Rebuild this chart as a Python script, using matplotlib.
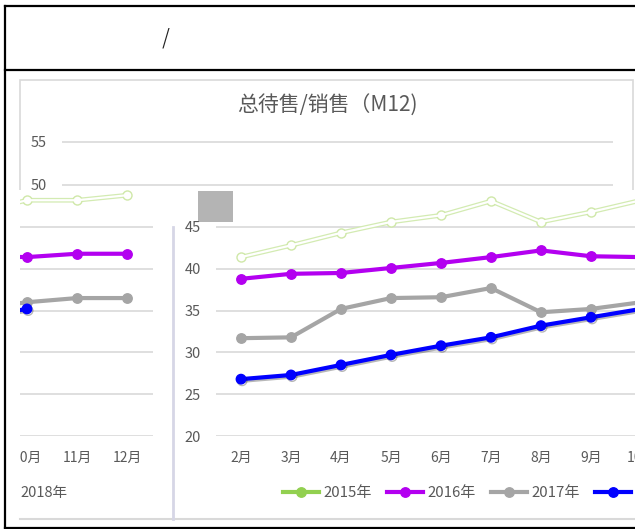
import matplotlib
matplotlib.use("Agg")
import matplotlib.pyplot as plt
import matplotlib.patheffects as pe
from matplotlib.lines import Line2D
from matplotlib.patches import Rectangle
from matplotlib.transforms import Bbox, TransformedBbox
import numpy as np

plt.rcParams['font.family'] = ['Noto Sans CJK SC', 'DejaVu Sans']

# data
months = ['2月', '3月', '4月', '5月', '6月', '7月', '8月', '9月', '10月', '11月', '12月']
s2015 = [41.4, 42.8, 44.3, 45.6, 46.4, 48.1, 45.6, 46.8, 48.2, 48.2, 48.8]
s2016 = [38.8, 39.4, 39.5, 40.1, 40.7, 41.4, 42.2, 41.5, 41.4, 41.8, 41.8]
s2017 = [31.7, 31.8, 35.2, 36.5, 36.6, 37.7, 34.8, 35.2, 36.0, 36.5, 36.5]
s2018 = [26.8, 27.3, 28.5, 29.7, 30.8, 31.8, 33.2, 34.2, 35.2, np.nan, np.nan]
years = ['2015年', '2016年', '2017年', '2018年']
colors = ['#92d050', '#b300f0', '#a5a5a5', '#0000ff']
title = '总待售/销售（M12)'
bg_ticks = [50, 55]
yticks = [20, 25, 30, 35, 40, 45]

W, H = 635, 529
TXT = '#595959'
GRID = '#d9d9d9'


def box(x0, y0, x1, y1):
    return [x0 / W, 1 - y1 / H, (x1 - x0) / W, (y1 - y0) / H]


def hline(fig, x0, x1, y, **kw):
    fig.add_artist(Line2D([x0 / W, x1 / W], [1 - y / H, 1 - y / H], **kw))


def vline(fig, x, y0, y1, **kw):
    fig.add_artist(Line2D([x / W, x / W], [1 - y0 / H, 1 - y1 / H], **kw))


fig = plt.figure(figsize=(6.35, 5.29), dpi=100)

# outer frame
hline(fig, 5, 635, 6, color='black', lw=1.6, zorder=5)
hline(fig, 5, 635, 70, color='black', lw=1.6, zorder=5)
hline(fig, 5, 635, 527.5, color='black', lw=1.6, zorder=5)
vline(fig, 5, 6, 528, color='black', lw=1.6, zorder=5)
fig.text(166 / W, 1 - 38 / H, '/', fontsize=17, ha='center', va='center',
         color='#222222', family='DejaVu Sans', fontweight='light')

# chart behind
fig.add_artist(Rectangle((20 / W, 1 - 300 / H), 613 / W, 220 / H,
                         transform=fig.transFigure, fc='white', ec=GRID, lw=1.2, zorder=0.1))
fig.text(327 / W, 1 - 106 / H, title, fontsize=15, color=TXT, ha='center', va='center', zorder=0.3)
ax_bg = fig.add_axes(box(62, 120, 613, 190), zorder=0.2)
ax_bg.set_facecolor('none')
ax_bg.set_ylim(50 - 5 / 8.6, 55 + 22 / 8.6)
ax_bg.set_yticks(bg_ticks)
ax_bg.set_xticks([])
ax_bg.grid(axis='y', color=GRID, lw=1.2)
ax_bg.tick_params(axis='y', length=0, pad=11, labelsize=10.5, labelcolor=TXT)
for s in ax_bg.spines.values():
    s.set_visible(False)

# chart in front
fig.add_artist(Rectangle((7 / W, 1 - 519 / H), 628 / W, 329 / H,
                         transform=fig.transFigure, fc='white', ec='none', zorder=0.5))
hline(fig, 20, 635, 519, color=GRID, lw=1.5, zorder=0.6)
vline(fig, 173, 227, 519, color='#d6d6e6', lw=2, zorder=0.6)
fig.add_artist(Rectangle((198 / W, 1 - 222 / H), 35 / W, 31 / H,
                         transform=fig.transFigure, fc='#b4b4b4', ec='none', zorder=0.7))

x = np.arange(len(months))
ax_l = fig.add_axes(box(20, 190, 153, 436), zorder=1)
ax_m = fig.add_axes(box(216, 190, 635, 436), zorder=1)
ax_l.set_xlim(7.86, 10.52)
ax_m.set_xlim(-0.5, 7.88)

clip = TransformedBbox(Bbox.from_extents(20 / W, 0, 1, 1), fig.transFigure)

for ax in (ax_l, ax_m):
    ax.set_facecolor('none')
    ax.set_ylim(20, 45 + 37 / 8.36)
    ax.set_yticks(yticks)
    ax.set_xticks([])
    ax.grid(axis='y', color=GRID, lw=1.2)
    ax.set_axisbelow(True)
    for s in ax.spines.values():
        s.set_visible(False)
    ax.tick_params(axis='y', length=0, pad=11, labelsize=10.5, labelcolor=TXT)

    # 2015 drawn as a pale outline
    ax.plot(x, s2015, color='#d3ebb2', lw=3.4, marker='o', ms=6.5,
            mfc='white', mec='#cfe8a8', mew=1, zorder=3)
    ax.plot(x, s2015, color='white', lw=1.6, zorder=3.1)
    ax.plot(x, s2016, color=colors[1], lw=3, marker='o', ms=6.8, zorder=4)
    ax.plot(x, s2017, color=colors[2], lw=3, marker='o', ms=6.8, zorder=4)
    ax.plot(x, s2018, color=colors[3], lw=3, marker='o', ms=6.8, zorder=5,
            path_effects=[pe.SimpleLineShadow(offset=(0.8, -1.2), shadow_color='black', alpha=0.28),
                          pe.Normal()])

# month labels, only those near each visible window
for i, m in enumerate(months):
    if i <= 8:
        ax_m.text(i, -0.09, m, transform=ax_m.get_xaxis_transform(), ha='center', va='center',
                  fontsize=10, color=TXT)
    if i >= 8:
        t = ax_l.text(i, -0.09, m, transform=ax_l.get_xaxis_transform(), ha='center', va='center',
                      fontsize=10, color=TXT)
        t.set_clip_box(clip)
        t.set_clip_on(True)

ax_l.tick_params(axis='y', labelleft=False)
fig.text(20 / W, 1 - 493 / H, '2018年', fontsize=10.5, color=TXT, ha='left', va='center')

handles = [Line2D([], [], color=c, lw=3, marker='o', ms=6.8) for c in colors]
fig.legend(handles, years, loc='center left', bbox_to_anchor=(283 / W, 1 - 493 / H),
           ncol=4, frameon=False, fontsize=10.8, labelcolor=TXT, handlelength=2.4,
           handletextpad=0.3, columnspacing=1.0, borderpad=0, borderaxespad=0)

fig.savefig('out.png', dpi=100)
